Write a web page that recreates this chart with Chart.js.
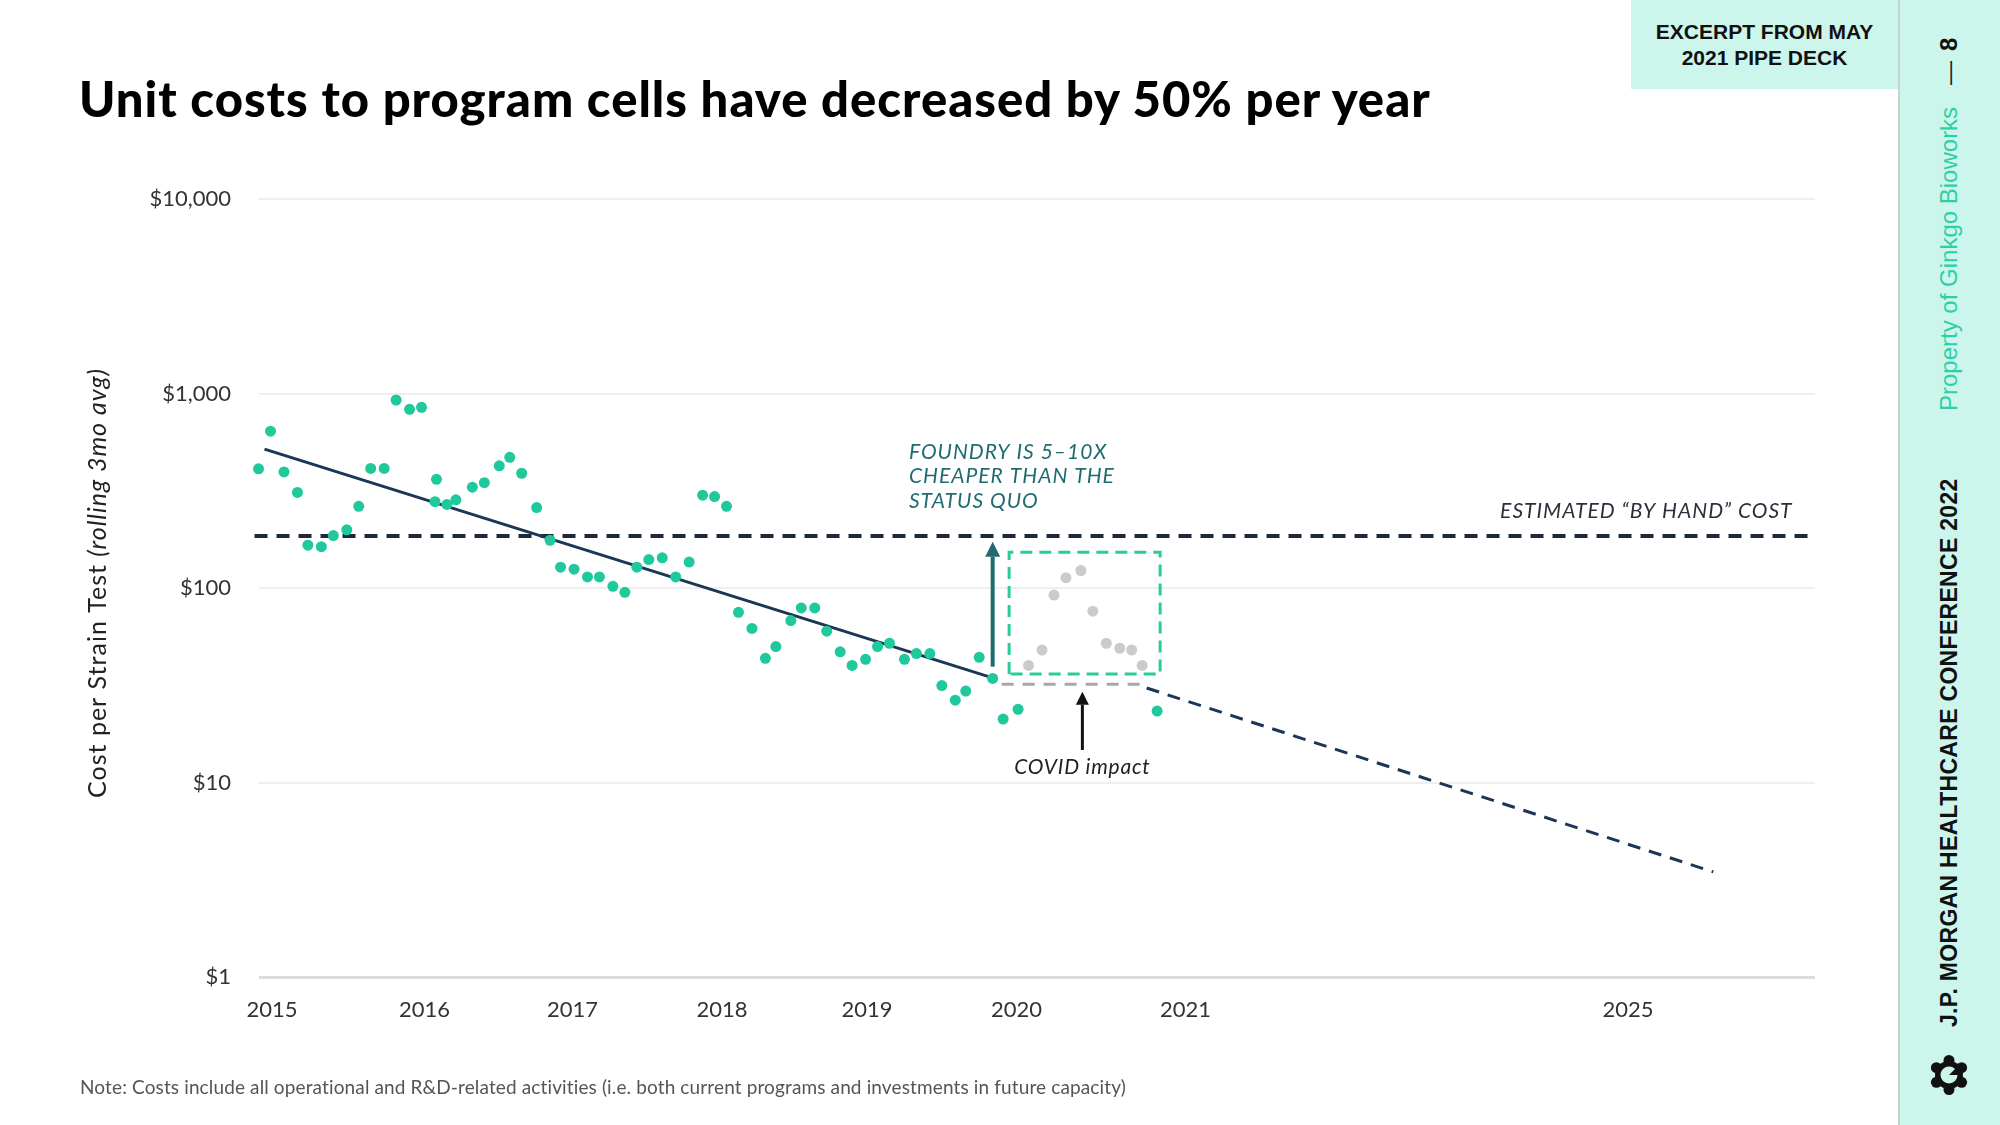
<!DOCTYPE html>
<html>
<head>
<meta charset="utf-8">
<title>Unit costs to program cells</title>
<script src="https://cdn.jsdelivr.net/npm/chart.js@4.4.1/dist/chart.umd.min.js"></script>
<style>
  html, body { margin: 0; padding: 0; background: #fff; }
  body { width: 2000px; height: 1125px; position: relative; overflow: hidden; font-family: Lato, "Open Sans", sans-serif; }
  #chartBox { position: absolute; left: 0; top: 0; width: 2000px; height: 1125px; }
  h1 { position: absolute; left: 79px; top: 74px; margin: 0; font-size: 49px; line-height: 1; font-weight: 900; letter-spacing: 1px; color: #000; white-space: nowrap; }
  .note { position: absolute; left: 80px; top: 1075px; font-size: 19px; letter-spacing: 0.13px; color: #555; white-space: nowrap; }
  .excerpt { position: absolute; left: 1631px; top: 0; width: 267px; height: 89px; background: #ccf6ec; box-sizing: border-box; padding-top: 19px;
             font-family: "Liberation Sans", Arial, sans-serif; font-weight: 700; font-size: 21px; line-height: 26px; text-align: center; color: #111; }
  .side { position: absolute; left: 1898px; top: 0; width: 102px; height: 1125px; background: #ccf6ec; border-left: 2px solid #c3d3ce; box-sizing: border-box; }
  .sideText { position: absolute; left: 1898px; top: 1125px; width: 1125px; height: 102px; transform-origin: 0 0; transform: rotate(-90deg);
              font-family: "Liberation Sans", Arial, sans-serif; }
  .sideText span { position: absolute; white-space: nowrap; line-height: 28px; top: 37px; }
  .jpm { left: 98px; font-size: 23px; font-weight: 700; letter-spacing: 0.3px; color: #111; }
  .prop { left: 714px; font-size: 24px; color: #2fcfa6; }
  .dash { left: 1040px; font-size: 24px; color: #222; }
  .page { left: 1074px; font-size: 24px; font-weight: 700; color: #111; }
  .logo { position: absolute; left: 1929px; top: 1055px; width: 40px; height: 40px; }
</style>
</head>
<body>
<div id="chartBox"><canvas id="myChart"></canvas></div>
<h1>Unit costs to program cells have decreased by 50% per year</h1>
<div class="note">Note: Costs include all operational and R&amp;D-related activities (i.e. both current programs and investments in future capacity)</div>
<div class="side"></div>
<div class="excerpt">EXCERPT FROM MAY<br>2021 PIPE DECK</div>
<div class="sideText">
  <span class="jpm">J.P. MORGAN HEALTHCARE CONFERENCE 2022</span>
  <span class="prop">Property of Ginkgo Bioworks</span>
  <span class="dash">—</span>
  <span class="page">8</span>
</div>
<svg class="logo" viewBox="0 0 40 40">
  <g fill="#111">
    <circle cx="20" cy="20" r="14"/>
    <circle cx="20" cy="5.5" r="5.5"/><circle cx="20" cy="34.5" r="5.5"/>
    <circle cx="7.4" cy="12.7" r="5.5"/><circle cx="32.6" cy="12.7" r="5.5"/>
    <circle cx="7.4" cy="27.3" r="5.5"/><circle cx="32.6" cy="27.3" r="5.5"/>
  </g>
  <circle cx="20" cy="20" r="8.5" fill="#ccf6ec"/>
  <path d="M20 20 L27 13 A9 9 0 0 1 29 20 Z" fill="#111"/>
</svg>

<script>
// monthly cost per strain test (rolling 3mo avg), x = decimal year
var costYears = [2014.91, 2014.99, 2015.08, 2015.17, 2015.24, 2015.33, 2015.41, 2015.50, 2015.58, 2015.66, 2015.75, 2015.83, 2015.92,
  2016.00, 2016.10, 2016.09, 2016.17, 2016.23, 2016.34, 2016.42, 2016.52, 2016.59, 2016.67, 2016.77, 2016.86, 2016.93,
  2017.02, 2017.11, 2017.19, 2017.28, 2017.36, 2017.44, 2017.52, 2017.61, 2017.70, 2017.79, 2017.88, 2017.96,
  2018.04, 2018.12, 2018.21, 2018.30, 2018.37, 2018.47, 2018.54, 2018.63, 2018.71, 2018.80, 2018.88, 2018.97,
  2019.05, 2019.13, 2019.23, 2019.31, 2019.40, 2019.48, 2019.57, 2019.64, 2019.73, 2019.82, 2019.89, 2019.99, 2020.92];
var costValues = [410, 640, 395, 310, 166, 163, 186, 199, 263, 412, 412, 926, 829,
  849, 362, 278, 269, 284, 330, 348, 425, 470, 389, 259, 176, 128,
  125, 114, 114, 102, 95, 128, 140, 143, 114, 136, 300, 295,
  263, 75, 62, 43.5, 50, 68, 79, 79, 60, 47, 40, 43,
  50, 52, 43, 46, 46, 31.5, 26.5, 29.5, 44, 34.3, 21.2, 23.8, 23.3];

// months hit by COVID (grey)
var covidYears = [2020.06, 2020.15, 2020.23, 2020.31, 2020.41, 2020.49, 2020.58, 2020.67, 2020.75, 2020.82];
var covidValues = [40, 48, 92, 113, 123, 76, 52, 49, 48, 40];

// trend line, flat covid delay and projection
var trendYears = [2014.95, 2019.82];
var trendValues = [518, 34.5];
var delayYears = [2019.88, 2020.82];
var delayValues = [32, 32];
var projYears = [2020.85, 2024.64];
var projValues = [30.6, 3.47];

var byHandCost = 185;
var covidBoxYears = [2019.93, 2020.94];
var covidBoxValues = [36.1, 152.6];

// axes
var xMin = 2014.913, xMax = 2025.32;
var yearLabels = ['2015', '2016', '2017', '2018', '2019', '2020', '2021', '2025'];
var yearTickAt = [2015.0, 2016.02, 2017.01, 2018.01, 2018.98, 2019.98, 2021.11, 2024.07];
var costTicks = [1, 10, 100, 1000, 10000];

// arrows: [year, from value, to value]
var foundryArrow = [2019.82, 39.4, 173];
var covidArrow = [2020.42, 14.7, 29.3];

var FONT = 'Lato, "Open Sans", sans-serif';

function pts(xs, ys) {
    return xs.map(function(x, i) { return {x: x, y: ys[i]}; });
}

function drawArrow(ctx, x, y0, y1, color, width, head) {
    ctx.save();
    ctx.strokeStyle = color;
    ctx.fillStyle = color;
    ctx.lineWidth = width;
    ctx.beginPath();
    ctx.moveTo(x, y0);
    ctx.lineTo(x, y1 + head);
    ctx.stroke();
    ctx.beginPath();
    ctx.moveTo(x, y1);
    ctx.lineTo(x - head / 2, y1 + head);
    ctx.lineTo(x + head / 2, y1 + head);
    ctx.closePath();
    ctx.fill();
    ctx.restore();
}

// axis title (mixed italic) and the annotations
const notesPlugin = {
    id: 'notes',
    afterDatasetsDraw(chart) {
        const ctx = chart.ctx;
        const x = chart.scales.x;
        const y = chart.scales.y;
        const area = chart.chartArea;

        // y axis title
        ctx.save();
        ctx.translate(98, (area.top + area.bottom) / 2 - 5);
        ctx.rotate(-Math.PI / 2);
        ctx.fillStyle = '#222';
        ctx.textBaseline = 'middle';
        ctx.letterSpacing = '1px';
        var part1 = 'Cost per Strain Test ';
        var part2 = '(rolling 3mo avg)';
        ctx.font = '25px ' + FONT;
        var w1 = ctx.measureText(part1).width;
        ctx.font = 'italic 25px ' + FONT;
        var w2 = ctx.measureText(part2).width;
        var start = -(w1 + w2) / 2;
        ctx.font = '25px ' + FONT;
        ctx.textAlign = 'left';
        ctx.fillText(part1, start, 0);
        ctx.font = 'italic 25px ' + FONT;
        ctx.fillText(part2, start + w1, 0);
        ctx.restore();

        // arrows
        drawArrow(ctx, x.getPixelForValue(foundryArrow[0]), y.getPixelForValue(foundryArrow[1]),
            y.getPixelForValue(foundryArrow[2]), '#1e6b70', 4, 15);
        drawArrow(ctx, x.getPixelForValue(covidArrow[0]), y.getPixelForValue(covidArrow[1]),
            y.getPixelForValue(covidArrow[2]), '#111', 3, 13);

        var lineY = y.getPixelForValue(byHandCost);
        ctx.save();
        ctx.textBaseline = 'middle';
        ctx.font = 'italic 21px ' + FONT;
        ctx.letterSpacing = '1px';

        // foundry note
        ctx.fillStyle = '#1e6b70';
        ctx.textAlign = 'left';
        var fx = x.getPixelForValue(2019.26);
        ['FOUNDRY IS 5\u201310X', 'CHEAPER THAN THE', 'STATUS QUO'].forEach(function(t, i) {
            ctx.fillText(t, fx, lineY - 84 + i * 24.5);
        });

        // by hand label
        ctx.fillStyle = '#2b2f3a';
        ctx.textAlign = 'right';
        ctx.fillText('ESTIMATED \u201cBY HAND\u201d COST', x.getPixelForValue(2025.17), lineY - 25);

        // covid label
        ctx.fillStyle = '#222';
        ctx.textAlign = 'center';
        ctx.letterSpacing = '0.8px';
        ctx.fillText('COVID impact', x.getPixelForValue(covidArrow[0]), y.getPixelForValue(covidArrow[1]) + 17);
        ctx.restore();
    }
};

var boxPts = [
    {x: covidBoxYears[0], y: covidBoxValues[0]},
    {x: covidBoxYears[0], y: covidBoxValues[1]},
    {x: covidBoxYears[1], y: covidBoxValues[1]},
    {x: covidBoxYears[1], y: covidBoxValues[0]},
    {x: covidBoxYears[0], y: covidBoxValues[0]}
];

const ctx = document.getElementById('myChart').getContext('2d');
const myChart = new Chart(ctx, {
    type: 'line',
    data: {
        datasets: [
            {
                label: 'Cost per strain test',
                data: pts(costYears, costValues),
                showLine: false,
                pointRadius: 5.5,
                pointBorderWidth: 0,
                pointBackgroundColor: '#1fc99c',
                clip: false,
                order: 1
            },
            {
                label: 'COVID months',
                data: pts(covidYears, covidValues),
                showLine: false,
                pointRadius: 5.5,
                pointBorderWidth: 0,
                pointBackgroundColor: '#cbcbcb',
                clip: false,
                order: 1
            },
            {
                label: 'Estimated by hand cost',
                data: [{x: xMin - 0.03, y: byHandCost}, {x: xMax, y: byHandCost}],
                borderColor: '#1f2a38',
                borderWidth: 4,
                borderDash: [13, 9],
                pointRadius: 0,
                clip: false,
                order: 3
            },
            {
                label: 'Trend',
                data: pts(trendYears, trendValues),
                borderColor: '#1c3656',
                borderWidth: 3,
                pointRadius: 0,
                order: 2
            },
            {
                label: 'COVID delay',
                data: pts(delayYears, delayValues),
                borderColor: '#a8a8a8',
                borderWidth: 3,
                borderDash: [12, 9],
                pointRadius: 0,
                order: 2
            },
            {
                label: 'Projection',
                data: pts(projYears, projValues),
                borderColor: '#1c3656',
                borderWidth: 3,
                borderDash: [13, 9],
                pointRadius: 0,
                order: 2
            },
            {
                label: 'COVID box',
                data: boxPts,
                borderColor: '#2acb9c',
                borderWidth: 3,
                borderDash: [12, 7],
                pointRadius: 0,
                tension: 0,
                order: 2
            }
        ]
    },
    options: {
        responsive: true,
        maintainAspectRatio: false,
        animation: false,
        layout: { padding: { left: 0, top: 199, right: 185, bottom: 0 } },
        plugins: {
            legend: { display: false },
            tooltip: { enabled: false }
        },
        scales: {
            x: {
                type: 'linear',
                min: xMin,
                max: xMax,
                grid: { display: false, drawTicks: false },
                border: { display: false },
                afterBuildTicks: function(scale) {
                    scale.ticks = yearTickAt.map(function(v) { return {value: v}; });
                },
                afterFit: function(scale) { scale.height = 148; },
                ticks: {
                    autoSkip: false,
                    maxRotation: 0,
                    padding: 20,
                    color: '#333',
                    font: { family: FONT, size: 22 },
                    callback: function(v, i) { return yearLabels[i]; }
                }
            },
            y: {
                type: 'logarithmic',
                min: 1,
                max: 10000,
                border: { display: false },
                grid: {
                    drawTicks: false,
                    color: function(c) { return c.tick && c.tick.value === 1 ? '#dcdcdc' : '#efefef'; },
                    lineWidth: function(c) { return c.tick && c.tick.value === 1 ? 3 : 2; }
                },
                afterBuildTicks: function(scale) {
                    scale.ticks = costTicks.map(function(v) { return {value: v}; });
                },
                afterFit: function(scale) { scale.width = 259; },
                ticks: {
                    padding: 28,
                    color: '#333',
                    font: { family: FONT, size: 22 },
                    callback: function(v) { return '$' + Number(v).toLocaleString('en-US'); }
                }
            }
        }
    },
    plugins: [notesPlugin]
});
</script>
</body>
</html>
